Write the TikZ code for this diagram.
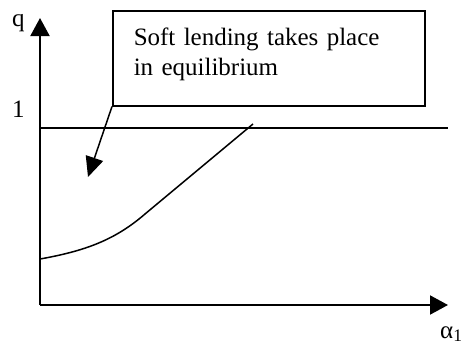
\documentclass[tikz,border=0pt]{standalone}
\usepackage{fontspec}
\setmainfont{Liberation Serif}
\usetikzlibrary{arrows.meta}

\begin{document}
\begin{tikzpicture}[
  x=1pt,
  y=-1pt,
  line cap=butt,
  font=\fontsize{25}{30}\selectfont
]

  % styles
  \tikzset{
    axis/.style={line width=2pt, -{Triangle[length=18pt,width=19pt]}},
    curve/.style={line width=1.5pt},
    callout/.style={draw, line width=1.5pt, anchor=north west,
      text width=270pt, align=left, inner xsep=21pt, inner ysep=17.7pt,
      text height=17.3pt, text depth=42.3pt},
    pointer/.style={line width=1.5pt, -{Triangle[length=20pt,width=18pt]}}
  }

  \useasboundingbox (0,0) rectangle (464,348);

  % axes
  \coordinate (O) at (40,305);
  \coordinate (ytop) at (40,18);
  \coordinate (xend) at (448,305);
  \draw[axis] (O) -- (ytop);
  \draw[axis] (O) -- (xend);

  \node[anchor=base west, inner sep=0pt] (qlab) at (12,27) {q};
  \node[anchor=base west, inner sep=0pt] (onelab) at (12,117) {1};
  \node[anchor=base west, inner sep=0pt] (alab) at (440,338) {α\textsubscript{1}};

  % q = 1 line
  \coordinate (oneL) at (40,128);
  \coordinate (oneR) at (448,128);
  \draw[curve] (oneL) -- (oneR);

  % equilibrium curve
  \draw[curve] (40,259) .. controls (85,251) and (115,240) .. (145,214) -- (253,124);

  % callout
  \node[callout] (note) at (112,10) {Soft lending takes place in equilibrium};
  \coordinate (tip) at (88,177);
  \draw[pointer] (note.south west) -- (tip);

\end{tikzpicture}
\end{document}
